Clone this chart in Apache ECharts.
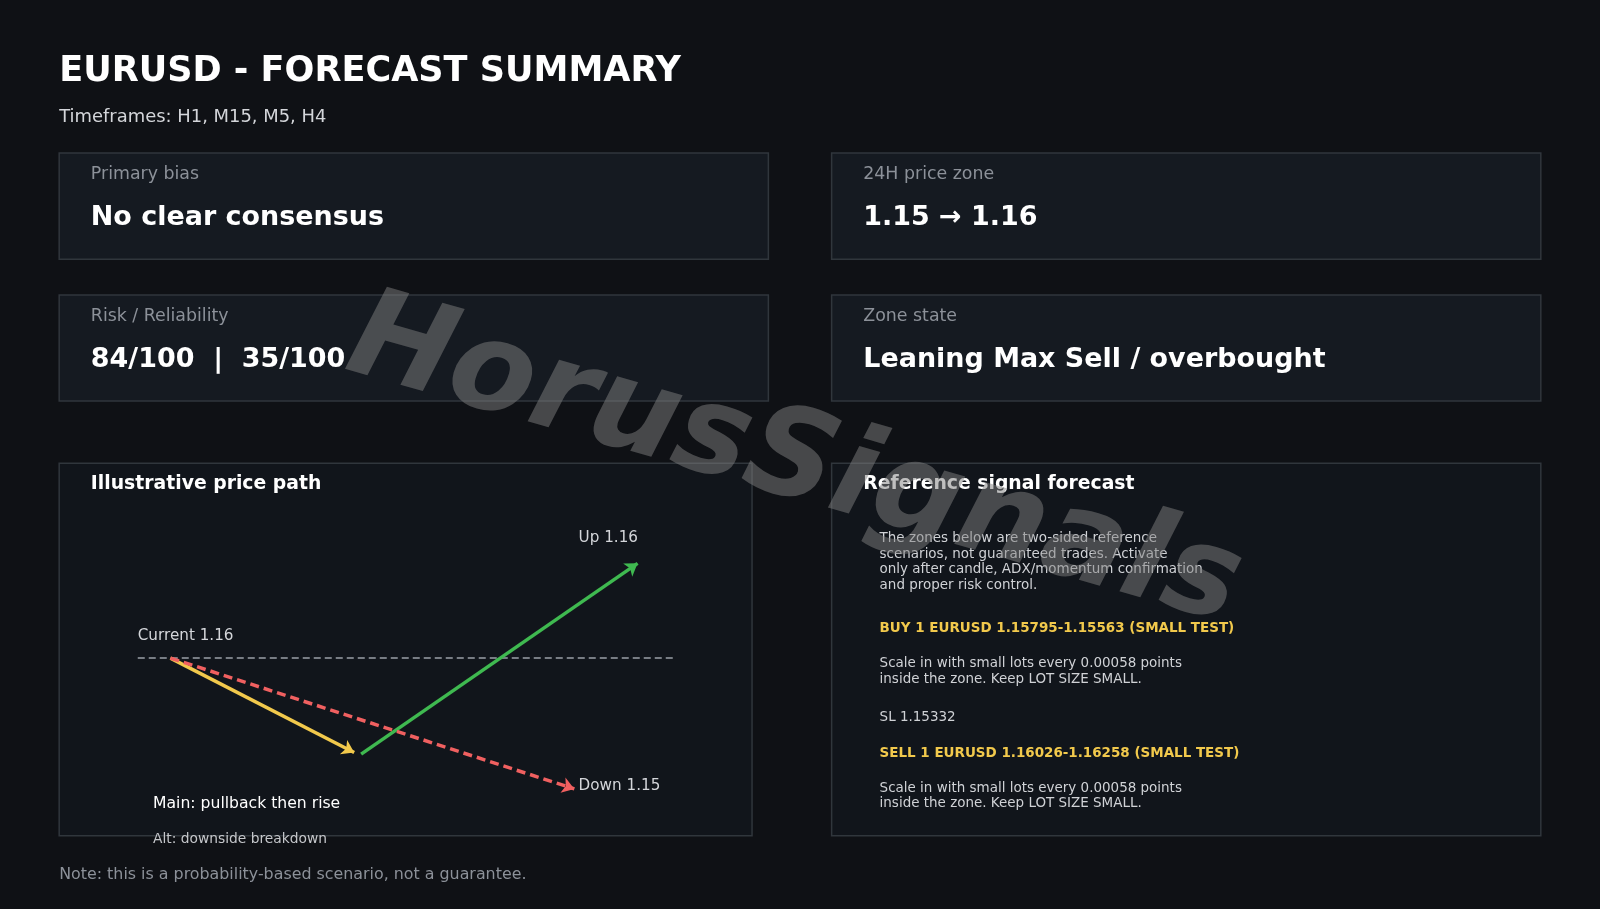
<!DOCTYPE html>
<html style="height:100%">
<head>
<meta charset="utf-8">
<script src="https://cdn.jsdelivr.net/npm/echarts@6/dist/echarts.min.js"></script>
</head>
<body style="height:100%;margin:0;background:#0f1115">
<div id="main" style="width:1600px;height:909px;"></div>
<script type="text/javascript">
// path points in abstract chart units (x: time, y: price level)
var currentLevel = 55.8;
var mainPath = [[6.1, 55.8], [40.4, 20.2]];
var risePath = [[41.7, 19.6], [93.3, 91.5]];
var altPath = [[6.1, 55.8], [81.5, 6.5]];
var pathLabels = ['Current 1.16', 'Up 1.16', 'Down 1.15'];

var cards = [
    ['Primary bias', 'No clear consensus'],
    ['24H price zone', '1.15 \u2192 1.16'],
    ['Risk / Reliability', '84/100  |  35/100'],
    ['Zone state', 'Leaning Max Sell / overbought']
];

var font = 'DejaVu Sans';
var K = 1600 / 1568;
function S(v) { return v * K; }
var myChart = echarts.init(document.getElementById('main'));

function box(x, y, w, h, fill) {
    return {type: 'rect', shape: {x: S(x), y: S(y), width: S(w), height: S(h)},
        style: {fill: fill, stroke: '#30363c', lineWidth: 1.5}, z: 0};
}
function txt(x, y, s, size, color, weight) {
    var fs = S(size * 1.065);
    return {type: 'text', x: S(x), y: S(y), z: 5,
        style: {text: s, fontSize: fs, fill: color, fontWeight: weight || 'normal',
            fontFamily: font, verticalAlign: 'middle', lineHeight: fs * 1.15}};
}

var g = [
    txt(58, 70, 'EURUSD - FORECAST SUMMARY', 32.3, '#ffffff', 'bold'),
    txt(58, 115, 'Timeframes: H1, M15, M5, H4', 16.5, '#d4d6da'),
    box(58, 454, 679, 365, '#11151b'),
    box(815, 454, 695, 365, '#11151b'),
    txt(89, 474, 'Illustrative price path', 17.3, '#ffffff', 'bold'),
    txt(846, 474, 'Reference signal forecast', 17.3, '#ffffff', 'bold'),
    txt(862, 551, 'The zones below are two-sided reference\nscenarios, not guaranteed trades. Activate\nonly after candle, ADX/momentum confirmation\nand proper risk control.', 12.4, '#d0d2d6'),
    txt(862, 616, 'BUY 1 EURUSD 1.15795-1.15563 (SMALL TEST)', 12.4, '#f2c94c', 'bold'),
    txt(862, 658, 'Scale in with small lots every 0.00058 points\ninside the zone. Keep LOT SIZE SMALL.', 12.4, '#d0d2d6'),
    txt(862, 703, 'SL 1.15332', 12.4, '#d0d2d6'),
    txt(862, 738, 'SELL 1 EURUSD 1.16026-1.16258 (SMALL TEST)', 12.4, '#f2c94c', 'bold'),
    txt(862, 780, 'Scale in with small lots every 0.00058 points\ninside the zone. Keep LOT SIZE SMALL.', 12.4, '#d0d2d6'),
    txt(135, 623, pathLabels[0], 14, '#d4d6da'),
    txt(567, 527, pathLabels[1], 14, '#d4d6da'),
    txt(567, 770, pathLabels[2], 14, '#d4d6da'),
    txt(150, 788, 'Main: pullback then rise', 14.4, '#ffffff'),
    txt(150, 823, 'Alt: downside breakdown', 12.7, '#c4c6ca'),
    txt(58, 857, 'Note: this is a probability-based scenario, not a guarantee.', 14.6, '#8c9199'),
    {type: 'text', x: S(778), y: S(455), rotation: -0.28, z: 20,
        style: {text: 'HorusSignals', fontSize: 124, fontWeight: 'bold', fontStyle: 'italic',
            fontFamily: font, fill: 'rgba(128,128,128,0.5)', align: 'center', verticalAlign: 'middle'}}
];
var cardPos = [[58, 150], [815, 150], [58, 289], [815, 289]];
cards.forEach(function (c, i) {
    var p = cardPos[i];
    g.push(box(p[0], p[1], 695, 104, '#151a21'));
    g.push(txt(p[0] + 31, p[1] + 21, c[0], 16, '#8c9199'));
    g.push(txt(p[0] + 31, p[1] + 64, c[1], 24.8, '#ffffff', 'bold'));
});

function arrow(path, color, type) {
    return {
        type: 'lines', coordinateSystem: 'cartesian2d', z: 3,
        symbol: ['none', 'arrow'], symbolSize: 12,
        lineStyle: {color: color, width: 3.5, type: type, opacity: 1},
        data: [{coords: path}]
    };
}

var option = {
    backgroundColor: '#0f1115',
    animation: false,
    graphic: g,
    grid: {left: S(135), width: S(525), top: S(530), height: S(260)},
    xAxis: {type: 'value', min: 0, max: 100, show: false},
    yAxis: {type: 'value', min: 0, max: 100, show: false},
    series: [
        {type: 'line', symbol: 'none', z: 2,
            lineStyle: {color: '#9aa0a8', width: 1.5, type: [7, 4]},
            data: [[0, currentLevel], [100, currentLevel]]},
        arrow(mainPath, '#f2c94c', 'solid'),
        arrow(risePath, '#3fb950', 'solid'),
        arrow(altPath, '#f06060', [9, 5])
    ]
};
myChart.setOption(option);
</script>
</body>
</html>
